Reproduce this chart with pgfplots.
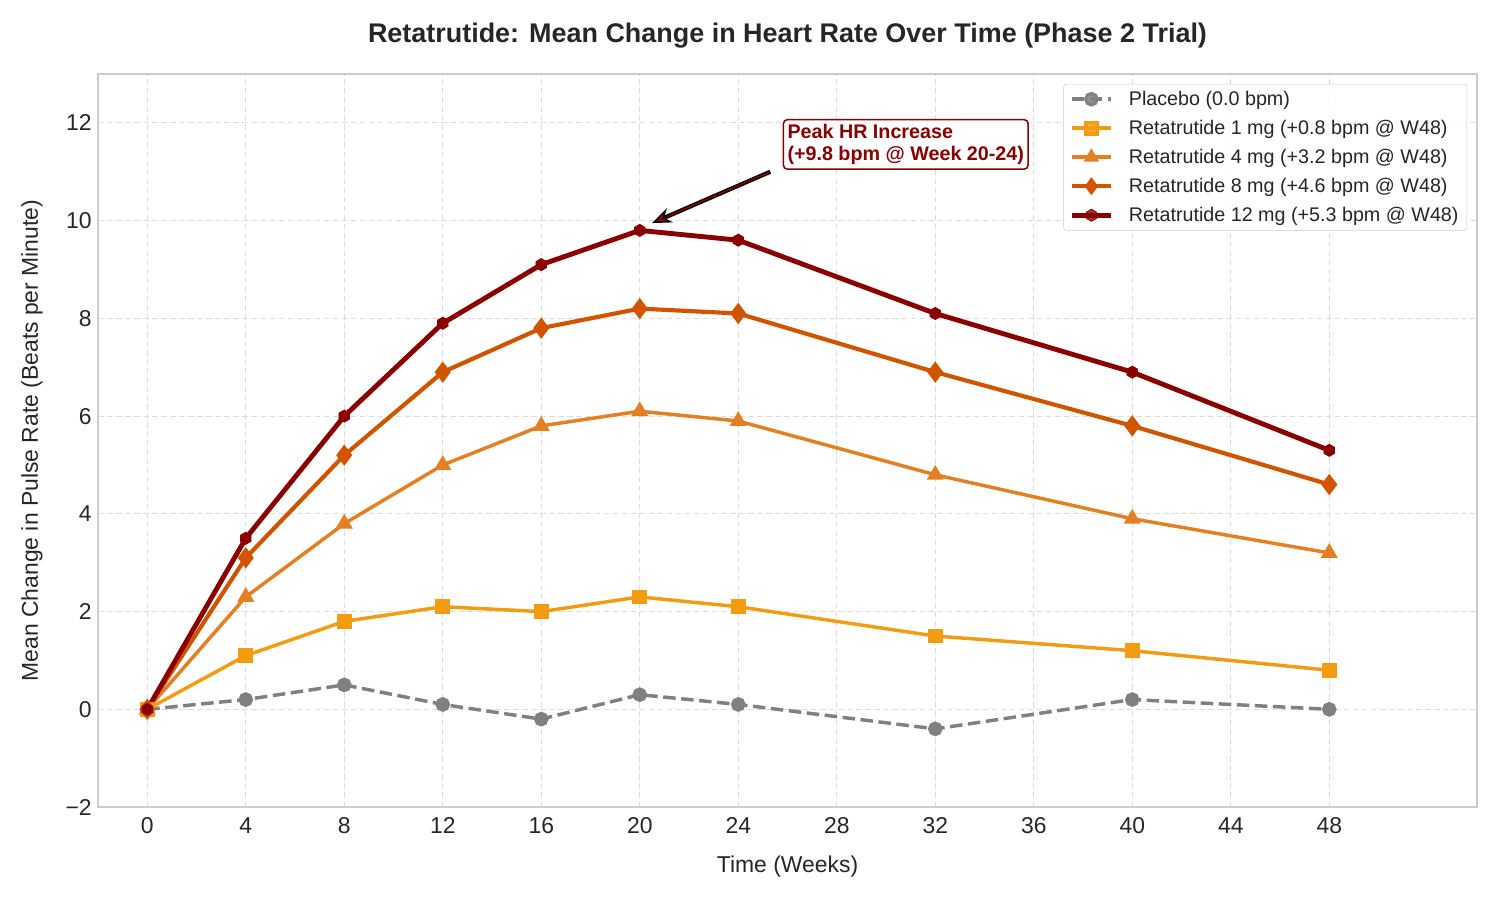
\documentclass[border=0pt]{standalone}
\usepackage{fontspec}
\setmainfont{Liberation Sans}
\usepackage{pgfplots}
\pgfplotsset{compat=1.18}
\usetikzlibrary{arrows.meta}
\definecolor{cplac}{HTML}{808080}
\definecolor{cone}{HTML}{F39C12}
\definecolor{cfour}{HTML}{E67E22}
\definecolor{ceight}{HTML}{D35400}
\definecolor{ctwelve}{HTML}{8B0000}
\definecolor{txt}{HTML}{262626}
\definecolor{gridc}{HTML}{DDDDDD}
\definecolor{framec}{HTML}{CCCCCC}
\pgfdeclareplotmark{hexagon*}{%
  \pgfpathmoveto{\pgfqpointpolar{90}{1.1\pgfplotmarksize}}%
  \pgfpathlineto{\pgfqpointpolar{150}{1.1\pgfplotmarksize}}%
  \pgfpathlineto{\pgfqpointpolar{210}{1.1\pgfplotmarksize}}%
  \pgfpathlineto{\pgfqpointpolar{270}{1.1\pgfplotmarksize}}%
  \pgfpathlineto{\pgfqpointpolar{330}{1.1\pgfplotmarksize}}%
  \pgfpathlineto{\pgfqpointpolar{30}{1.1\pgfplotmarksize}}%
  \pgfpathclose
  \pgfusepathqfillstroke}
\pgfplotstableread{
w plac one four eight twelve
0 0.0 0.0 0.0 0.0 0.0
4 0.2 1.1 2.3 3.1 3.5
8 0.5 1.8 3.8 5.2 6.0
12 0.1 2.1 5.0 6.9 7.9
16 -0.2 2.0 5.8 7.8 9.1
20 0.3 2.3 6.1 8.2 9.8
24 0.1 2.1 5.9 8.1 9.6
32 -0.4 1.5 4.8 6.9 8.1
40 0.2 1.2 3.9 5.8 6.9
48 0.0 0.8 3.2 4.6 5.3
}\data
\begin{document}
\begin{tikzpicture}
\useasboundingbox (-70.56pt,-67pt) rectangle (1009.44pt,581.1pt);
\begin{axis}[
  at={(0pt,0pt)}, anchor=south west,
  scale only axis, width=992.9pt, height=527.8pt,
  xmin=-2, xmax=54, ymin=-2, ymax=13,
  xtick={0,4,...,48}, ytick={-2,0,...,12},
  yticklabels={−2,0,2,4,6,8,10,12},
  major tick length=0pt,
  axis line style={framec, line width=1pt},
  grid=major,
  major grid style={gridc, dashed, line width=0.8pt, dash pattern=on 4pt off 2.5pt},
  tick label style={font=\fontsize{16.5}{18}\selectfont, text=txt},
  /pgf/number format/assume math mode=true,
  xticklabel style={yshift=-4pt},
  yticklabel style={xshift=-1pt},
  xlabel={Time (Weeks)},
  ylabel={Mean Change in Pulse Rate (Beats per Minute)},
  label style={font=\fontsize{16.5}{18}\selectfont, text=txt},
  xlabel style={at={(axis description cs:0.5,0)}, anchor=center, yshift=-43pt},
  ylabel style={at={(axis description cs:0,0.5)}, anchor=center, yshift=47.5pt},
  title={\bfseries Retatrutide: Mean Change in Heart Rate Over Time (Phase 2 Trial)},
  title style={font=\fontsize{19.4}{22}\selectfont, text=txt, at={(axis description cs:0.5,1)}, anchor=center, yshift=21.6pt},
  legend style={at={(axis cs:53.6,12.8)}, anchor=north east, draw=framec, rounded corners=2pt,
    fill=white, fill opacity=0.8, text opacity=1, font=\fontsize{14.2}{16}\selectfont, text=txt,
    row sep=5.1pt, inner xsep=4pt, inner ysep=3pt, cells={anchor=west}},
  legend image code/.code={\draw[mark repeat=2, mark phase=2, mark size=4pt] plot coordinates {(0cm,0cm) (0.5cm,0cm) (1cm,0cm)};\path (1cm+9pt,0cm);},
  clip=false,
]
\addplot[cplac, line width=2.5pt, dash pattern=on 9pt off 4pt, mark=*, mark size=4pt, mark options={solid}] table[x=w,y=plac] {\data};
\addlegendentry{Placebo (0.0 bpm)}
\addplot[cone, line width=2.5pt, mark=square*, mark size=4pt] table[x=w,y=one] {\data};
\addlegendentry{Retatrutide 1 mg (+0.8 bpm @ W48)}
\addplot[cfour, line width=2.5pt, mark=triangle*, mark size=4.6pt] table[x=w,y=four] {\data};
\addlegendentry{Retatrutide 4 mg (+3.2 bpm @ W48)}
\addplot[ceight, line width=3pt, mark=diamond*, mark size=5.2pt] table[x=w,y=eight] {\data};
\addlegendentry{Retatrutide 8 mg (+4.6 bpm @ W48)}
\addplot[ctwelve, line width=3.5pt, mark=hexagon*, mark size=4pt, mark options={line width=0.5pt}] table[x=w,y=twelve] {\data};
\addlegendentry{Retatrutide 12 mg (+5.3 bpm @ W48)}
\draw[black, line width=3pt, -{Stealth[length=14pt, width=11pt, fill=ctwelve, line width=1pt]}] (axis cs:25.3,11.0) -- (axis cs:20.5,9.95);
\draw[ctwelve, line width=1pt, shorten >=12pt] (axis cs:25.25,10.99) -- (axis cs:20.5,9.95);
\node[draw=ctwelve, line width=1.1pt, rounded corners=3pt, fill=white, text=ctwelve, anchor=west, align=left,
  font=\fontsize{14.2}{16.5}\selectfont\bfseries, inner xsep=3pt, inner ysep=3pt] at (axis cs:25.8,11.56) {Peak HR Increase\\(+9.8 bpm @ Week 20-24)};
\end{axis}
\end{tikzpicture}
\end{document}
